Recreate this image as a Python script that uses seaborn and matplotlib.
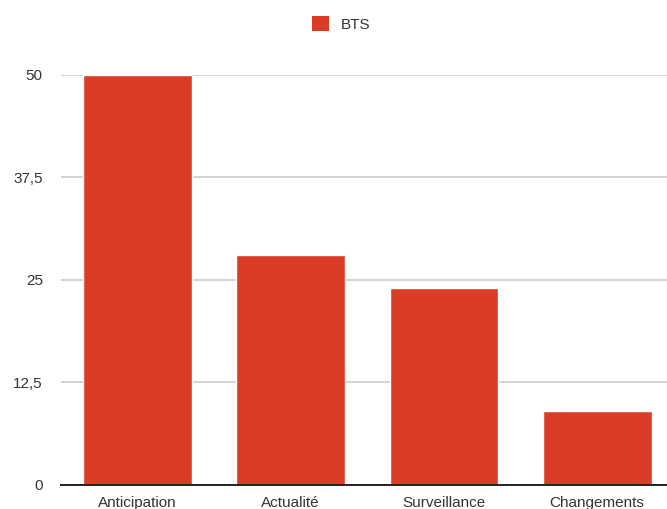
import matplotlib
matplotlib.use("Agg")
import matplotlib.pyplot as plt
from matplotlib.patches import Patch
import seaborn as sns
import pandas as pd

categories = ["Anticipation", "Actualité", "Surveillance", "Changements"]
values = [50, 28, 24, 9]
series_name = "BTS"
y_ticks = [0, 12.5, 25, 37.5, 50]
y_tick_labels = ["0", "12,5", "25", "37,5", "50"]

bar_color = "#DA3C26"

sns.set_theme(style="white")
plt.rcParams["font.family"] = ["Liberation Sans", "DejaVu Sans"]

df = pd.DataFrame({"categorie": categories, "valeur": values})

fig = plt.figure(figsize=(6.67, 5.09), dpi=100)
ax = fig.add_axes([0.0912, 0.0472, 0.919, 0.8055])

sns.barplot(data=df, x="categorie", y="valeur", color=bar_color,
            saturation=1, width=0.71, ax=ax, zorder=3)

ax.set_ylim(0, 50)
ax.set_xlim(-0.5, 3.5)
ax.set_yticks(y_ticks)
ax.set_yticklabels(y_tick_labels)
ax.yaxis.grid(True, color="#CBCBCB", linewidth=1.2, zorder=0)
ax.set_axisbelow(True)

for side in ["left", "right", "top"]:
    ax.spines[side].set_visible(False)
ax.spines["bottom"].set_color("#222222")
ax.spines["bottom"].set_linewidth(1.4)
ax.spines["bottom"].set_zorder(4)

ax.set_xlabel("")
ax.set_ylabel("")
ax.tick_params(axis="y", length=0, pad=13, labelsize=11, labelcolor="#333333")
ax.tick_params(axis="x", length=0, pad=8, labelsize=11, labelcolor="#333333")

handle = Patch(facecolor=bar_color, edgecolor="none", label=series_name)
fig.legend(handles=[handle], loc="center", bbox_to_anchor=(0.512, 0.953),
           frameon=False, fontsize=11, handlelength=1.1, handleheight=1.1,
           handletextpad=0.8, labelcolor="#333333")

fig.savefig("out.png", dpi=100, facecolor="white")
